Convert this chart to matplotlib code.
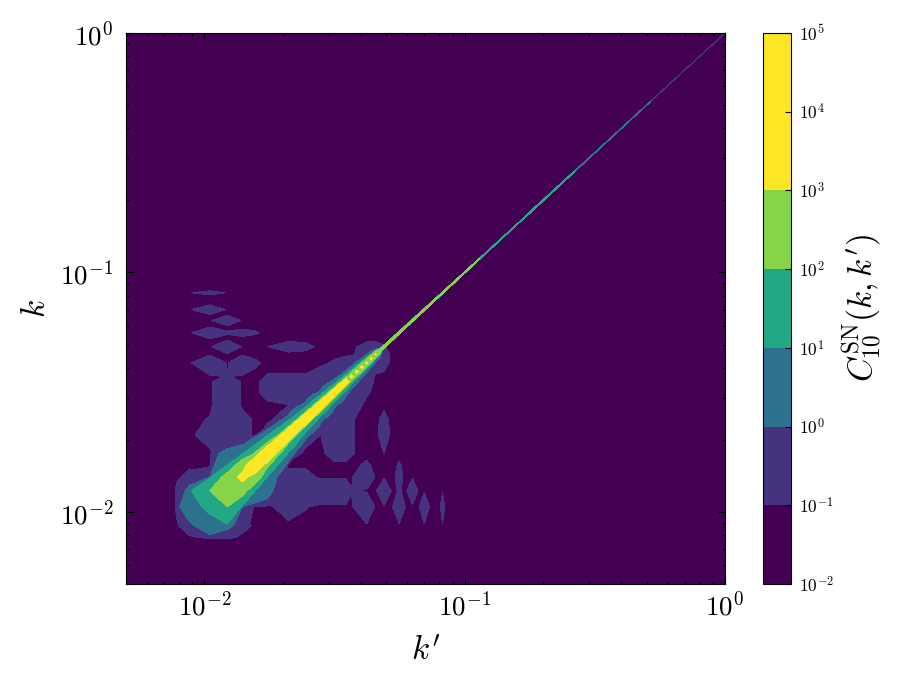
import numpy as np
import matplotlib
matplotlib.use("Agg")
import matplotlib.pyplot as plt
from matplotlib.colors import ListedColormap, LogNorm
from matplotlib.ticker import NullFormatter

plt.rcParams['mathtext.fontset'] = 'cm'

# grid spacing of the wavenumbers, every k is n * dk
dk = 0.00175

# band edges and colours of the filled contours
levels = [1e-2, 1e-1, 1e0, 1e1, 1e2, 1e3, 1e4, 1e5]
band_colors = ['#440154', '#46337f', '#2c728e', '#22a884', '#86d549', '#fde725', '#fde725']

# tick labels
axis_ticks = [0.01, 0.1, 1]
axis_labels = ['$10^{-2}$', '$10^{-1}$', '$10^{0}$']
bar_labels = ['$10^{-2}$', '$10^{-1}$', '$10^{0}$', '$10^{1}$', '$10^{2}$', '$10^{3}$', '$10^{4}$', '$10^{5}$']

# broad low level part, nodes are n values, cells given for col <= row and mirrored
base_n = [2.86, 4.4, 4.46, 5, 6, 7, 8, 9, 10, 12, 14, 16, 18, 20, 21, 24, 26, 28, 30,
          32, 34, 36, 38, 40, 42, 46, 47, 48, 50, 572]
cell_col = [4.46, 4.46, 5, 5, 5, 5, 6, 6, 7, 7, 7, 7, 7, 7, 7, 7, 7, 7,
            6, 6, 8, 8, 8, 8, 8, 8, 9, 9, 10, 10, 10, 10, 10,
            12, 12, 12, 12, 12, 12, 14, 14, 14, 14, 14,
            16, 16, 16, 16, 18, 18, 18, 18, 20, 20, 20, 21, 21, 24, 24, 24, 26, 26, 28,
            6, 8, 9, 7, 6, 8, 7, 9, 7, 6, 6, 10, 12, 14]
cell_row = [6, 7, 5, 6, 7, 8, 6, 7, 7, 8, 9, 10, 12, 14, 16, 18, 20, 21,
            12, 14, 8, 9, 10, 12, 14, 5, 9, 10, 10, 12, 18, 20, 21,
            12, 14, 16, 18, 20, 21, 14, 16, 18, 20, 21,
            16, 18, 20, 21, 18, 20, 21, 24, 20, 21, 24, 21, 24, 24, 26, 28, 26, 28, 28,
            24, 24, 24, 28, 32, 32, 32, 32, 36, 40, 47, 28, 28, 28]
cell_val = [0.2, 0.2, 0.5, 0.5, 0.5, 0.15, 0.5, 0.5, 0.5, 0.5, 0.5, 0.6, 0.6, 0.15, 0.6, 0.6, 0.6, 0.12,
            0.33, 0.12, 0.5, 0.5, 0.25, 0.25, 0.25, 0.25, 0.5, 0.5, 0.5, 0.3, 0.28, 0.28, 0.12,
            0.5, 0.3, 0.1, 0.5, 0.5, 0.12, 0.5, 0.5, 0.5, 0.5, 0.12,
            0.5, 0.5, 0.5, 0.3, 0.5, 0.5, 0.5, 0.15, 0.5, 0.5, 0.4, 0.5, 0.5, 0.5, 0.5, 0.25, 0.4, 0.3, 0.12,
            0.95, 0.95, 0.15, 0.95, 0.95, 0.2, 0.13, 0.13, 0.8, 0.95, 0.95, 0.1, 0.3, 0.2]

# ridge near the diagonal, value at (n, n+j) for n = 5 ... 26
ridge_n = list(range(5, 27))
ridge_d0 = [0.1, 14, 700, 1500, 3000, 4000, 4000, 4000, 4000, 4000, 3500,
            3500, 3000, 3000, 2800, 2400, 1500, 1400, 1400, 1300, 1300, 1200]
ridge_d1 = [4, 100, 150, 180, 120, 120, 70, 40, 25, 25, 25,
            25, 25, 22, 22, 20, 18, 18, 16, 15, 6, 3]
ridge_d2 = [1.5, 0.6, 4, 6, 5, 3, 2.5, 2, 4, 2, 4,
            2, 4, 2, 1.5, 1.5, 1.5, 1.5, 1, 0.5, 0.3, 0.2]
ridge_d3 = [0.2, 0, 2, 0.4, 0, 0, 0, 0, 0, 0, 0,
            0, 0, 0, 0, 0, 0, 0, 0, 0, 0, 0]

# thin part of the diagonal from n = 27, value holds up to n = end
thin_end = [65, 151, 294, 572]
thin_val = [500, 50, 5, 0.5]

band_cmap = ListedColormap(band_colors)
band_norm = LogNorm(vmin=levels[0], vmax=levels[-1])

# low level layer
base_k = np.array(base_n) * dk
Zbase = np.full((len(base_n), len(base_n)), 0.02)
for c, r, v in zip(cell_col, cell_row, cell_val):
    i = base_n.index(c)
    j = base_n.index(r)
    Zbase[i, j] = v
    Zbase[j, i] = v

# diagonal layer, floor stays above zero or the log norm masks the cells
# first node is the cut off edge, half steps keep the line narrow up to n = 100
fine_n = [4.46] + list(range(5, 27)) + list(np.arange(27, 100, 0.5)) + list(range(100, 573))
fine_pos = {n: i for i, n in enumerate(fine_n)}
fine_k = np.array(fine_n) * dk
Zfine = np.full((len(fine_n), len(fine_n)), 0.001)
for off, vals in enumerate([ridge_d0, ridge_d1, ridge_d2, ridge_d3]):
    for n, v in zip(ridge_n, vals):
        if v > 0:
            Zfine[fine_pos[n], fine_pos[n + off]] = v
            Zfine[fine_pos[n + off], fine_pos[n]] = v
for n in fine_n:
    if n >= 27:
        Zfine[fine_pos[n], fine_pos[n]] = thin_val[np.searchsorted(thin_end, n)]

fig = plt.figure(figsize=(9.13, 6.85), dpi=100)
ax = fig.add_axes([126 / 913, 101 / 685, 599 / 913, 551 / 685])
cax = fig.add_axes([763 / 913, 101 / 685, 28 / 913, 551 / 685])

cs = ax.contourf(base_k, base_k, Zbase, levels=levels, cmap=band_cmap, norm=band_norm)
ax.contourf(fine_k, fine_k, Zfine, levels=levels[1:], cmap=band_cmap, norm=band_norm)

ax.set_xscale('log')
ax.set_yscale('log')
ax.set_xlim(0.005, 1)
ax.set_ylim(0.005, 1)
ax.set_xticks(axis_ticks)
ax.set_yticks(axis_ticks)
ax.set_xticklabels(axis_labels)
ax.set_yticklabels(axis_labels)
ax.xaxis.set_minor_formatter(NullFormatter())
ax.yaxis.set_minor_formatter(NullFormatter())
ax.tick_params(which='major', direction='in', top=True, right=True, length=5, width=0.8, labelsize=19.5)
ax.tick_params(which='minor', direction='in', top=True, right=True, length=2.5, width=0.8)
ax.tick_params(axis='x', which='major', pad=5)
ax.tick_params(axis='y', which='major', pad=9)
ax.set_xlabel(r"$k'$", fontsize=24, labelpad=10)
ax.set_ylabel(r"$k$", fontsize=24, labelpad=6)

cb = fig.colorbar(cs, cax=cax)
cb.set_ticks(levels)
cb.set_ticklabels(bar_labels)
cb.ax.minorticks_off()
cb.ax.tick_params(which='major', direction='in', length=4.5, width=0.8, labelsize=12.5, pad=6)
cb.set_label(r"$C_{10}^{\rm SN}(k,k')$", fontsize=24, labelpad=4)

fig.savefig('out.png', dpi=100)
